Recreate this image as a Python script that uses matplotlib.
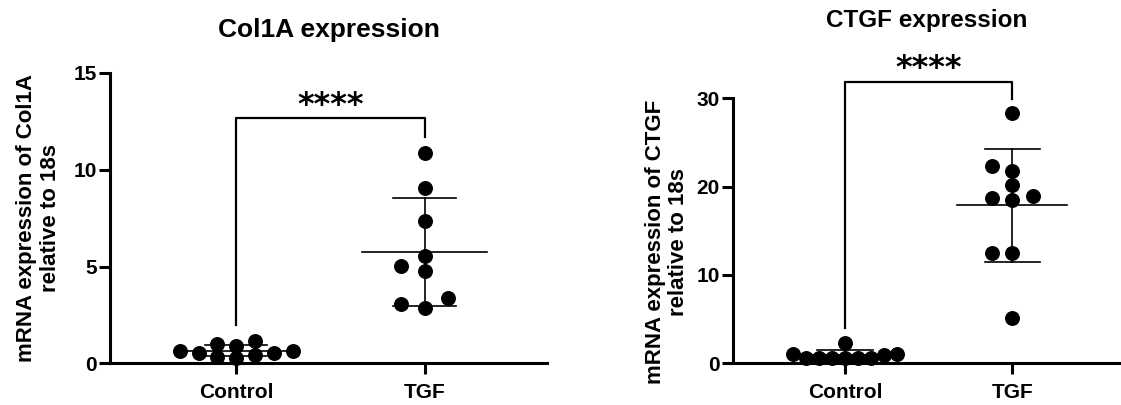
import numpy as np
import matplotlib
matplotlib.use('Agg')
import matplotlib.pyplot as plt

plt.rcParams['font.family'] = ['Liberation Sans', 'DejaVu Sans']
plt.rcParams['font.weight'] = 'bold'

groups = ['Control', 'TGF']

# Col1A / 18s
col1a_control = [1.15, 0.43, 0.65, 0.55, 0.65, 0.91, 0.26, 0.55, 1.00, 0.34]
col1a_tgf = [10.86, 9.05, 7.33, 5.55, 5.05, 4.79, 3.36, 2.84, 3.05]
col1a_ticks = [0, 5, 10, 15]

# CTGF / 18s
ctgf_control = [0.64, 1.06, 0.64, 1.06, 2.34, 0.57, 0.94, 0.64, 0.64, 0.64]
ctgf_tgf = [28.3, 22.3, 21.8, 20.2, 18.9, 18.5, 18.7, 12.5, 12.5, 5.1]
ctgf_ticks = [0, 10, 20, 30]

fig = plt.figure(figsize=(11.21, 4.05), dpi=100)
ax1 = fig.add_axes([110 / 1121, 41.7 / 405, 437 / 1121, 290.3 / 405])
ax2 = fig.add_axes([733 / 1121, 41.7 / 405, 388 / 1121, 265 / 405])


def swarm_offsets(ax, vals, center, step, min_px=11):
    # greedy column placement, like a prism scatter dot plot
    order = np.argsort(vals, kind='stable')
    placed = []
    offs = np.zeros(len(vals))
    for i in order:
        k = 0
        while True:
            for cand in ([0] if k == 0 else [-k, k]):
                x = center + cand * step
                p = ax.transData.transform((x, vals[i]))
                ok = all(np.hypot(*(p - q)) >= min_px for q in placed)
                if ok:
                    break
            if ok:
                break
            k += 1
        offs[i] = cand * step
        placed.append(p)
    return center + offs


def panel(ax, ctrl, tgf, ticks, title, ylabel, steps, title_size, title_y, label_y):
    ymax = ticks[-1]
    ax.set_xlim(-0.67, 1.65)
    ax.set_ylim(0, ymax)
    for pos, vals, step in zip([0, 1], [ctrl, tgf], steps):
        vals = np.array(vals)
        m = vals.mean()
        sd = vals.std(ddof=1)
        ax.plot([pos - 0.33, pos + 0.33], [m, m], color='black', lw=1.2, zorder=2)
        ax.plot([pos, pos], [m - sd, m + sd], color='black', lw=1.2, zorder=2)
        for y in (m - sd, m + sd):
            ax.plot([pos - 0.165, pos + 0.165], [y, y], color='black', lw=1.2, zorder=2)
        xs = swarm_offsets(ax, vals, pos, step)
        ax.scatter(xs, vals, s=95, color='black', zorder=3, clip_on=False)

    # significance bracket
    pad = 0.055 * ymax
    top = max(tgf) + pad + 0.065 * ymax
    ax.plot([0, 0, 1, 1], [max(ctrl) + pad, top, top, max(tgf) + pad],
            color='black', lw=1.6, clip_on=False, zorder=4)
    ax.text(0.5, top - 0.008 * ymax, '****', ha='center', va='bottom',
            fontsize=23, fontweight='bold', family='DejaVu Sans', clip_on=False)

    ax.set_title(title, fontsize=title_size, fontweight='bold', pad=0, y=title_y)
    ax.set_ylabel(ylabel, fontsize=16, fontweight='bold', linespacing=1.15)
    ax.yaxis.set_label_coords(-0.113, label_y)
    ax.set_xticks([0, 1])
    ax.set_xticklabels(groups, fontsize=15, fontweight='bold')
    ax.set_yticks(ticks)
    ax.set_yticklabels([str(t) for t in ticks], fontsize=15, fontweight='bold')
    ax.tick_params(axis='y', length=8, width=2.2, pad=1.5)
    ax.tick_params(axis='x', length=8, width=2.2, pad=6)
    for s in ['top', 'right']:
        ax.spines[s].set_visible(False)
    for s in ['left', 'bottom']:
        ax.spines[s].set_linewidth(2.2)


panel(ax1, col1a_control, col1a_tgf, col1a_ticks, 'Col1A expression',
      'mRNA expression of Col1A\nrelative to 18s', [0.1, 0.125], 19,
      1.0 + 36 / 290.3, 0.5)

panel(ax2, ctgf_control, ctgf_tgf, ctgf_ticks, 'CTGF expression',
      'mRNA expression of CTGF\nrelative to 18s', [0.078, 0.124], 17.5,
      1.0 + 71 / 265, 0.458)

fig.savefig('out.png', dpi=100)
